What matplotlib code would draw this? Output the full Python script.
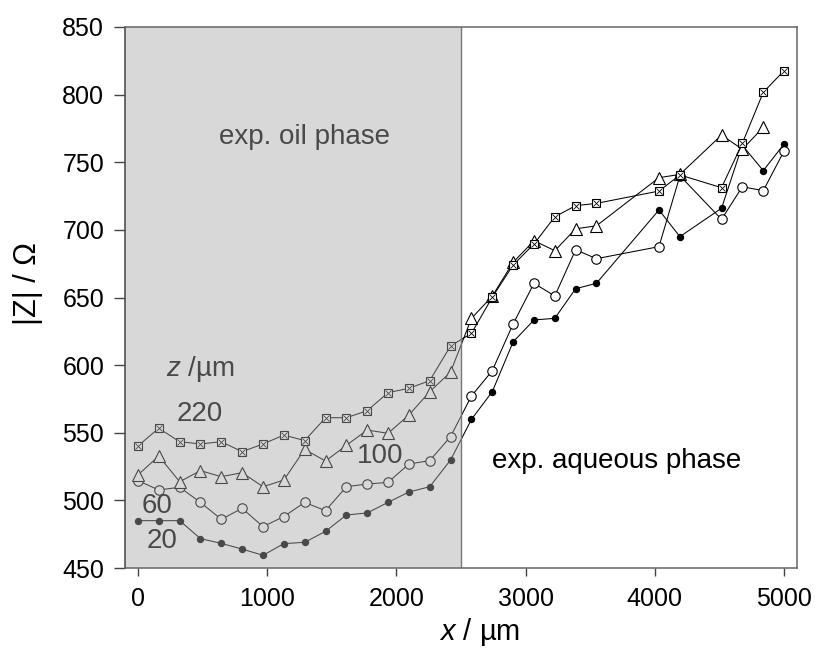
import matplotlib
matplotlib.use('Agg')
import matplotlib.pyplot as plt

plt.rcParams['font.family'] = ['Liberation Sans', 'DejaVu Sans']
plt.rcParams['mathtext.fontset'] = 'custom'
plt.rcParams['mathtext.rm'] = 'Liberation Sans'
plt.rcParams['mathtext.it'] = 'Liberation Sans:italic'

# ---------------- data ----------------
x20 = [0, 161, 323, 484, 645, 806, 968, 1129, 1290, 1452, 1613, 1774, 1935, 2097,
       2258, 2419, 2581, 2742, 2903, 3065, 3226, 3387, 3548, 4032, 4194, 4516,
       4677, 4839, 5000]
y20 = [485.0, 485.0, 485.0, 471.7, 468.2, 464.0, 459.4, 468.0, 469.0, 477.1, 489.2,
       490.7, 498.5, 506.2, 510.1, 529.8, 559.9, 580.4, 617.1, 633.4, 634.6, 656.5,
       660.5, 714.7, 695.0, 716.0, 762.5, 743.8, 763.5]

x60 = [0, 161, 323, 484, 645, 806, 968, 1129, 1290, 1452, 1613, 1774, 1935, 2097,
       2258, 2419, 2581, 2742, 2903, 3065, 3226, 3387, 3548, 4032, 4194, 4516,
       4677, 4839, 5000]
y60 = [514.6, 507.7, 509.7, 498.5, 486.0, 494.1, 480.6, 488.0, 498.5, 492.4, 510.1,
       512.1, 513.3, 526.9, 529.4, 547.1, 577.2, 595.9, 630.4, 660.5, 651.1, 685.3,
       678.7, 687.6, 740.0, 707.8, 731.9, 729.0, 758.3]

x100 = [0, 161, 323, 484, 645, 806, 968, 1129, 1290, 1452, 1613, 1774, 1935, 2097,
        2258, 2419, 2581, 2742, 2903, 3065, 3226, 3387, 3548, 4032, 4194, 4516,
        4677, 4839]
y100 = [518.8, 532.8, 513.8, 522.0, 517.5, 520.5, 510.1, 515.0, 537.7, 529.1, 540.7,
        552.0, 549.6, 563.1, 580.4, 594.8, 634.6, 651.0, 676.0, 692.0, 684.6, 700.8,
        703.0, 738.6, 741.0, 770.1, 759.6, 775.8]

x220 = [0, 161, 323, 484, 645, 806, 968, 1129, 1290, 1452, 1613, 1774, 1935, 2097,
        2258, 2419, 2581, 2742, 2903, 3065, 3226, 3387, 3548, 4032, 4194, 4516,
        4677, 4839, 5000]
y220 = [540.2, 553.3, 543.4, 541.7, 543.4, 536.0, 541.7, 548.3, 544.2, 561.1, 561.1,
        566.3, 579.6, 582.9, 588.5, 614.2, 623.5, 650.2, 674.0, 689.6, 709.7, 717.9,
        719.6, 728.7, 740.6, 731.2, 764.0, 801.7, 817.7]

x_ticks = [0, 1000, 2000, 3000, 4000, 5000]
y_ticks = [450, 500, 550, 600, 650, 700, 750, 800, 850]
oil_end = 2500

# ---------------- figure ----------------
W, H = 816, 651
fig = plt.figure(figsize=(W / 100, H / 100), dpi=100)
ax = fig.add_axes([125 / W, 1 - 568 / H, 672 / W, 541 / H])

lw = 0.75
ax.plot(x20, y20, '-', color='black', lw=lw, marker='o', ms=4.3,
        mfc='black', mec='black', zorder=3)
ax.plot(x60, y60, '-', color='black', lw=lw, marker='o', ms=6.8,
        mfc='white', mec='black', mew=0.8, zorder=3)
ax.plot(x100, y100, '-', color='black', lw=lw, marker='^', ms=8.5,
        mfc='white', mec='black', mew=0.8, zorder=3)
ax.plot(x220, y220, '-', color='black', lw=lw, marker='s', ms=6.3,
        mfc='white', mec='black', mew=0.8, zorder=3)
ax.plot(x220, y220, ls='none', marker='x', ms=4.2, mec='black', mew=0.6, zorder=3.1)

# annotations
tk = dict(fontsize=20, color='black', zorder=4)
ax.text(216, 597, r'$z$ /µm', ha='left', va='center', **tk)
ax.text(479, 564, '220', ha='center', va='center', **tk)
ax.text(1878, 533, '100', ha='center', va='center', **tk)
ax.text(147, 496, '60', ha='center', va='center', **tk)
ax.text(185, 470, '20', ha='center', va='center', **tk)
ax.text(1290, 769, 'exp. oil phase', ha='center', va='center', **tk)
ax.text(3702, 529, 'exp. aqueous phase', ha='center', va='center', **tk)

# oil-phase overlay
ax.axvspan(-100, oil_end, facecolor=(0.655, 0.655, 0.655), alpha=0.443,
           edgecolor='none', zorder=5)
ax.axvline(oil_end, color='#777777', lw=1.0, zorder=6)

ax.set_xlim(-100, 5100)
ax.set_ylim(450, 850)
ax.set_xticks(x_ticks)
ax.set_yticks(y_ticks)
ax.tick_params(axis='x', direction='out', length=6, width=1, color='#444444',
               pad=8, labelsize=18)
ax.tick_params(axis='y', direction='out', length=8, width=1, color='#444444',
               pad=7, labelsize=18)

for s in ax.spines.values():
    s.set_zorder(10)
    s.set_linewidth(1.1)
    s.set_color('#666666')
ax.spines['left'].set_color('#444444')

# axis titles
fig.text(480 / W, 1 - 640 / H, r'$x$ / µm', fontsize=21, ha='center', va='baseline')
fig.text(28 / W, 1 - 284 / H, '|Z| / Ω', fontsize=22, rotation=90,
         ha='center', va='center')

fig.savefig('out.png', dpi=100)
